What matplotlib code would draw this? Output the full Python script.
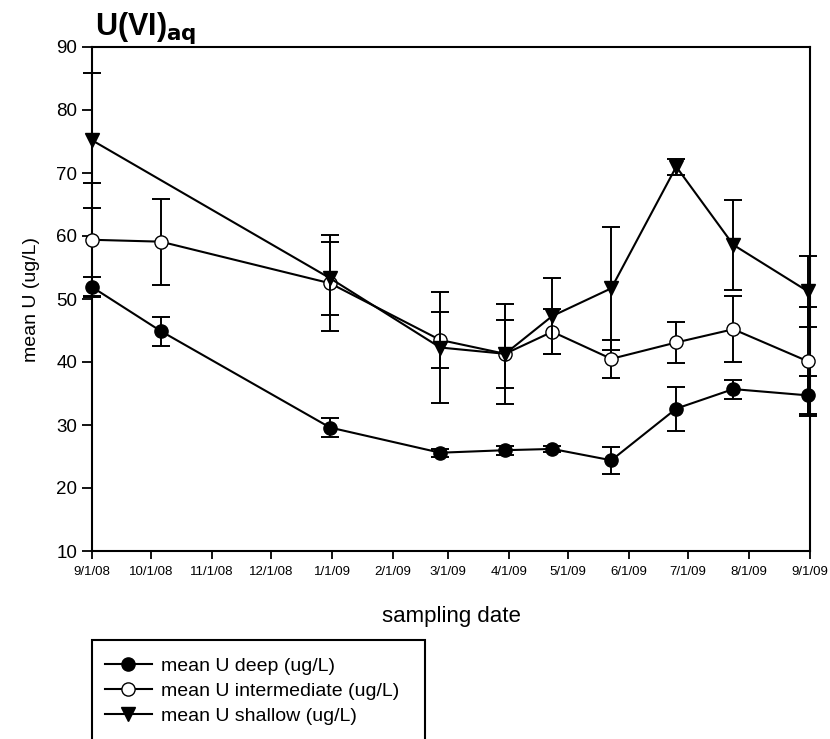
import numpy as np
import pandas as pd
import matplotlib
matplotlib.use("Agg")
import matplotlib.pyplot as plt
import matplotlib.dates as mdates
from matplotlib.lines import Line2D
from matplotlib.patches import Rectangle

plt.rcParams['font.family'] = ['Liberation Sans', 'DejaVu Sans']

# sampling dates
dates = pd.to_datetime(['2008-09-01', '2008-10-06', '2008-12-31', '2009-02-25',
                        '2009-03-30', '2009-04-23', '2009-05-23', '2009-06-25',
                        '2009-07-24', '2009-08-31'])
# shallow has no sample on 10/6/08
shallow_dates = pd.to_datetime(['2008-09-01', '2008-12-31', '2009-02-25',
                                '2009-03-30', '2009-04-23', '2009-05-23',
                                '2009-06-25', '2009-07-24', '2009-08-31'])

deep = [51.9, 44.9, 29.6, 25.6, 26.0, 26.2, 24.4, 32.6, 35.7, 34.7]
deep_err = [1.6, 2.3, 1.5, 0.6, 0.7, 0.5, 2.1, 3.5, 1.5, 3.0]
inter = [59.4, 59.1, 52.5, 43.5, 41.3, 44.8, 40.5, 43.1, 45.2, 40.1]
inter_err = [9.0, 6.8, 7.6, 4.5, 5.4, 3.6, 3.0, 3.2, 5.2, 8.6]
shallow = [75.2, 53.3, 42.3, 41.3, 47.3, 51.7, 71.0, 58.6, 51.2]
shallow_err = [10.7, 5.8, 8.8, 7.9, 6.0, 9.8, 1.3, 7.1, 5.6]

tick_dates = pd.date_range('2008-09-01', '2009-09-01', freq='MS')
labels = ['mean U deep (ug/L)', 'mean U intermediate (ug/L)', 'mean U shallow (ug/L)']

W, H = 830, 739
fig = plt.figure(figsize=(W / 100, H / 100), dpi=100)
ax = fig.add_axes([92 / W, 1 - 551 / H, 718 / W, 504 / H])

eb = dict(color='black', lw=1.5, elinewidth=1.4, capsize=6.5, capthick=1.4,
          markersize=9.5, clip_on=False)
ax.errorbar(dates, deep, yerr=deep_err, marker='o', mfc='black', zorder=3, **eb)
ax.errorbar(dates, inter, yerr=inter_err, marker='o', mfc='white', zorder=4, **eb)
ax.errorbar(shallow_dates, shallow, yerr=shallow_err, marker='v', mfc='black',
            zorder=5, **eb)

ax.set_ylim(10, 90)
ax.set_yticks(range(10, 91, 10))
ax.set_xlim(pd.Timestamp('2008-09-01'), pd.Timestamp('2009-09-01'))
ax.set_xticks(tick_dates)
ax.set_xticklabels([f"{d.month}/{d.day}/{d.strftime('%y')}" for d in tick_dates],
                   fontsize=9.5)
ax.tick_params(axis='y', labelsize=13.5, direction='out', length=7, width=1.3)
ax.tick_params(axis='x', direction='out', length=6, width=1.3, pad=5)
for s in ax.spines.values():
    s.set_linewidth(1.5)

ax.set_ylabel('mean U (ug/L)', fontsize=14, labelpad=12)
ax.set_xlabel('sampling date', fontsize=16, labelpad=20)

fig.text(95 / W, 1 - 35 / H, r'U(VI)$_{\mathbf{aq}}$', fontsize=22,
         fontweight='bold', ha='left', va='baseline')

handles = [
    Line2D([], [], color='black', lw=1.5, marker='o', mfc='black', markersize=9.5),
    Line2D([], [], color='black', lw=1.5, marker='o', mfc='white', markersize=9.5),
    Line2D([], [], color='black', lw=1.5, marker='v', mfc='black', markersize=9.5),
]
fig.legend(handles, labels, loc='upper left', bbox_to_anchor=(105 / W, 1 - 657 / H),
           frameon=False, fontsize=14, handlelength=2.4, labelspacing=0.38,
           handletextpad=0.5, borderaxespad=0, borderpad=0)
fig.add_artist(Rectangle((92 / W, 1 - 760 / H), 333 / W, 120 / H,
                         transform=fig.transFigure, fill=False, lw=1.5,
                         edgecolor='black'))

fig.savefig('out.png', dpi=100)
